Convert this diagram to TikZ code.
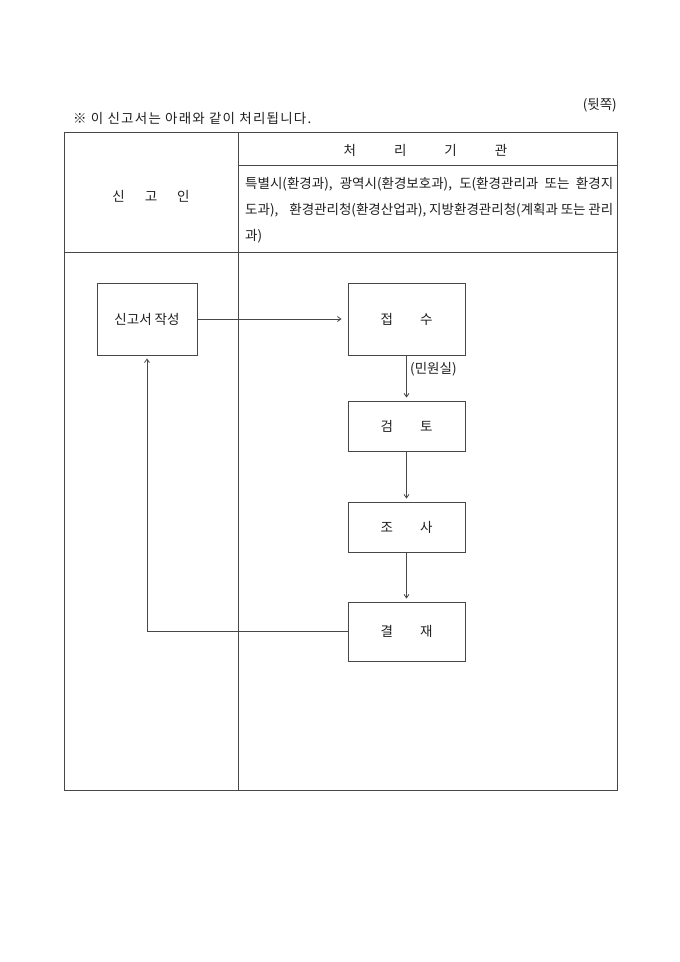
\documentclass[tikz,border=0pt]{standalone}
\usepackage{fontspec}
\setmainfont{Noto Sans CJK KR}
\newfontfamily\titlefont[LetterSpace=9]{Noto Sans CJK KR}
\usetikzlibrary{arrows.meta}
\begin{document}
\begin{tikzpicture}[x=1pt,y=-1pt,
  rule/.style={draw=black!72, line width=0.9pt},
  flowbox/.style={draw=black!72, line width=0.9pt, inner sep=0pt, font=\fontsize{13.5}{15}\selectfont, text=black!88},
  arr/.style={draw=black!72, line width=0.8pt, -{Straight Barb[length=3.5pt,width=5pt]}},
  txt/.style={inner sep=0pt, font=\fontsize{13.5}{15}\selectfont, text=black!88}]
\useasboundingbox (0,0) rectangle (680,962);
% table
\draw[rule] (64,132) rectangle (617,790);
\draw[rule] (238,132) -- (238,790);
\draw[rule] (238,165) -- (617,165);
\draw[rule] (64,252) -- (617,252);
% texts above table
\node[txt, anchor=east] (back) at (617,105) {(뒷쪽)};
\node[txt, anchor=west, font=\titlefont\fontsize{13.5}{15}\selectfont] (title) at (73,118) {※ 이 신고서는 아래와 같이 처리됩니다.};
% header cells
\node[txt] (hdr) at (425.5,150) {처\hspace{38pt}리\hspace{38pt}기\hspace{38pt}관};
\node[txt] (sgi) at (151,196) {신\hspace{20pt}고\hspace{20pt}인};
\node[txt, anchor=west] (l1) at (245,184) {\makebox[368pt][s]{특별시(환경과), 광역시(환경보호과), 도(환경관리과 또는 환경지}};
\node[txt, anchor=west] (l2) at (245,210) {\makebox[368pt][s]{도과),\ \ \ \ 환경관리청(환경산업과), 지방환경관리청(계획과 또는 관리}};
\node[txt, anchor=west] (l3) at (245,236) {과)};
% flow boxes
\node[flowbox, minimum width=100pt, minimum height=72pt] (s) at (147,319) {신고서 작성};
\node[flowbox, minimum width=117pt, minimum height=72pt] (j) at (406.5,319) {접\hspace{27pt}수};
\node[flowbox, minimum width=117pt, minimum height=50pt] (k) at (406.5,426) {검\hspace{27pt}토};
\node[flowbox, minimum width=117pt, minimum height=50pt] (c) at (406.5,527) {조\hspace{27pt}사};
\node[flowbox, minimum width=117pt, minimum height=59pt] (g) at (406.5,631.5) {결\hspace{27pt}재};
% connectors
\draw[arr, shorten >=6pt] (s.east) -- (j.west);
\draw[arr, shorten >=3pt] (j.south) -- (k.north);
\draw[arr, shorten >=3pt] (k.south) -- (c.north);
\draw[arr, shorten >=3pt] (c.south) -- (g.north);
\draw[arr, shorten >=3pt] (g.west) -| (s.south);
\node[txt, anchor=west] (mw) at (410,369) {(민원실)};
\end{tikzpicture}
\end{document}
